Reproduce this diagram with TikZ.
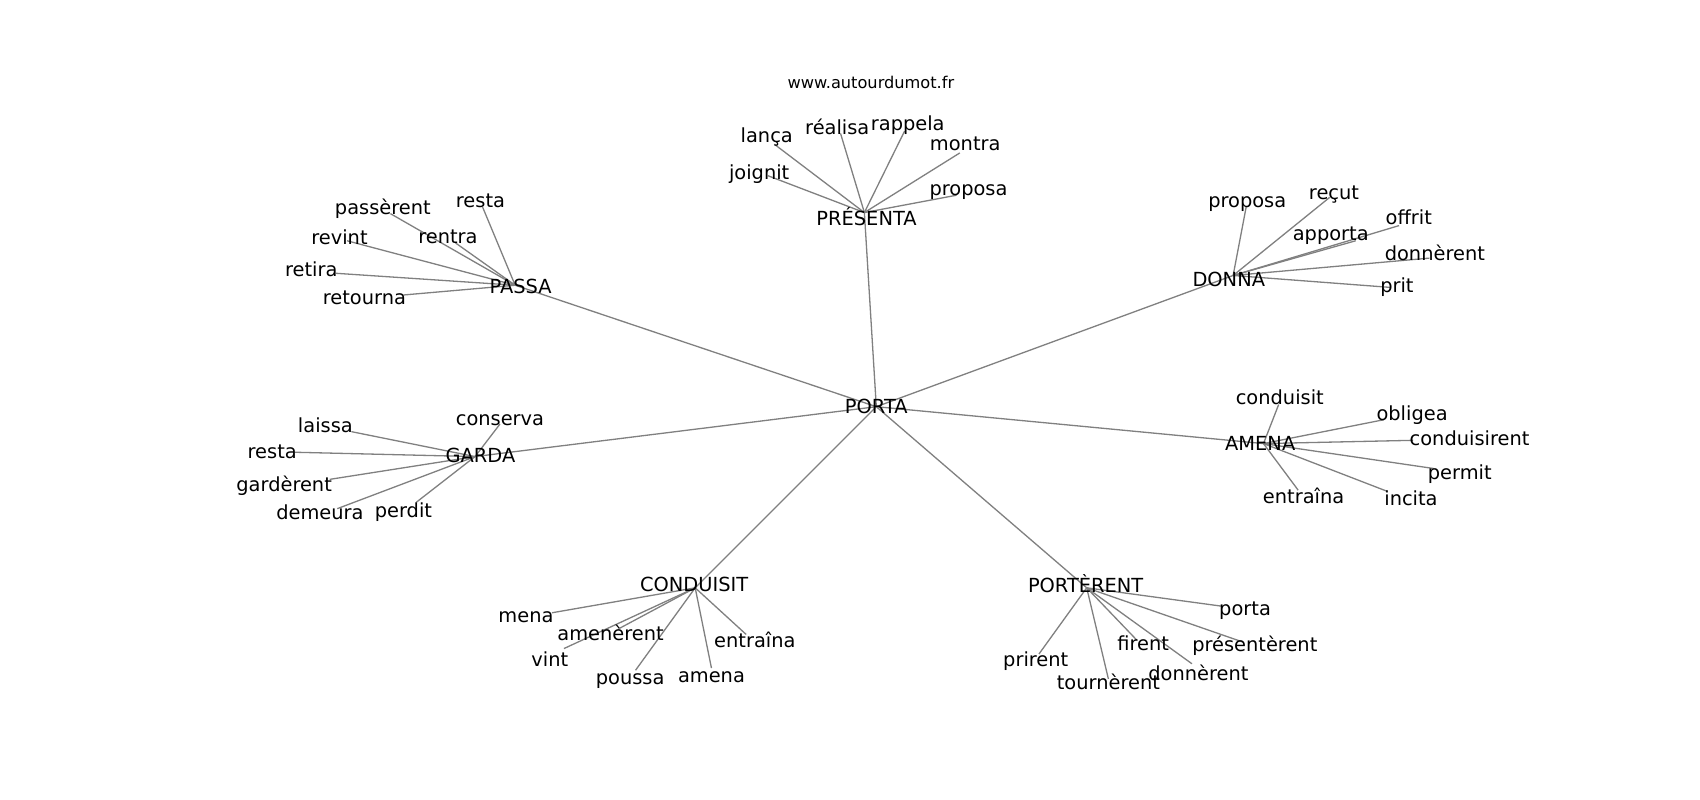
\documentclass[tikz,border=0pt]{standalone}
\usepackage{fontspec}
\setmainfont{DejaVu Sans}
\begin{document}
\begin{tikzpicture}[x=0.54225pt,y=-0.54225pt,
  edge/.style={draw=black!50,line width=0.65pt},
  leaf/.style={inner sep=0pt,text height=1ex,text depth=0pt,yshift=-0.6pt,font=\fontsize{9.7}{11}\selectfont},
  hub/.style={inner sep=0pt,text height=0.729em,text depth=0pt,font=\fontsize{9.7}{11}\selectfont},
  ttl/.style={inner sep=0pt,font=\fontsize{8.1}{10}\selectfont}]
\useasboundingbox[fill=white] (0,0) rectangle (1567.5,737.6);
% hub points
\coordinate (hPORTA) at (808,375);
\coordinate (hPRES) at (797,196);
\coordinate (hPASSA) at (475,263);
\coordinate (hDONNA) at (1137,254);
\coordinate (hAMENA) at (1165,409);
\coordinate (hGARDA) at (438,421);
\coordinate (hCOND) at (641,542);
\coordinate (hPORT) at (1002,542);
% leaf end points
\coordinate (e1) at (714,133);
\coordinate (e2) at (775,123);
\coordinate (e3) at (834,121);
\coordinate (e4) at (885,141);
\coordinate (e5) at (708,162);
\coordinate (e6) at (882,180);
\coordinate (f1) at (360,197);
\coordinate (f2) at (445,191);
\coordinate (f3) at (320,222);
\coordinate (f4) at (420,224);
\coordinate (f5) at (310,252);
\coordinate (f6) at (372,272);
\coordinate (g1) at (1149,191);
\coordinate (g2) at (1226,182);
\coordinate (g3) at (1250,222);
\coordinate (g4) at (1290,208);
\coordinate (g5) at (1318,238);
\coordinate (g6) at (1282,265);
\coordinate (a1) at (1179,373);
\coordinate (a2) at (1276,387);
\coordinate (a3) at (1303,406);
\coordinate (a4) at (1322,432);
\coordinate (a5) at (1279,453);
\coordinate (a6) at (1197,452);
\coordinate (d1) at (461,391);
\coordinate (d2) at (324,398);
\coordinate (d3) at (272,417);
\coordinate (d4) at (304,442);
\coordinate (d5) at (311,469);
\coordinate (d6) at (384,463);
\coordinate (c1) at (509,565);
\coordinate (c2) at (570,580);
\coordinate (c3) at (520,598);
\coordinate (c4) at (586,618);
\coordinate (c5) at (656,616);
\coordinate (c6) at (688,585);
\coordinate (p1) at (1127,559);
\coordinate (p2) at (1146,592);
\coordinate (p3) at (1048,590);
\coordinate (p4) at (1099,612);
\coordinate (p5) at (1022,626);
\coordinate (p6) at (958,603);
% edges
\foreach \h in {hPRES,hPASSA,hDONNA,hAMENA,hGARDA,hCOND,hPORT} \draw[edge] (hPORTA) -- (\h);
\foreach \e in {e1,e2,e3,e4,e5,e6} \draw[edge] (hPRES) -- (\e);
\foreach \e in {f1,f2,f3,f4,f5,f6} \draw[edge] (hPASSA) -- (\e);
\foreach \e in {g1,g2,g3,g4,g5,g6} \draw[edge] (hDONNA) -- (\e);
\foreach \e in {a1,a2,a3,a4,a5,a6} \draw[edge] (hAMENA) -- (\e);
\foreach \e in {d1,d2,d3,d4,d5,d6} \draw[edge] (hGARDA) -- (\e);
\foreach \e in {c1,c2,c3,c4,c5,c6} \draw[edge] (hCOND) -- (\e);
\foreach \e in {p1,p2,p3,p4,p5,p6} \draw[edge] (hPORT) -- (\e);
% title
\node[ttl] (title) at (803,76) {www.autourdumot.fr};
% hub labels
\node[hub] (PORTA) at (808,375) {PORTA};
\node[hub] (PRES) at (799,201) {PRÉSENTA};
\node[hub] (PASSA) at (480,264) {PASSA};
\node[hub] (DONNA) at (1133,257) {DONNA};
\node[hub] (AMENA) at (1162,409) {AMENA};
\node[hub] (GARDA) at (443,420) {GARDA};
\node[hub] (COND) at (640,539) {CONDUISIT};
\node[hub] (PORT) at (1001,540) {PORTÈRENT};
% leaves
\node[leaf] (le1) at (707,125) {lança};
\node[leaf] (le2) at (772,118) {réalisa};
\node[leaf] (le3) at (837,114) {rappela};
\node[leaf] (le4) at (890,133) {montra};
\node[leaf] (le5) at (700,159) {joignit};
\node[leaf] (le6) at (893,174) {proposa};
\node[leaf] (lf1) at (353,192) {passèrent};
\node[leaf] (lf2) at (443,185) {resta};
\node[leaf] (lf3) at (313,219) {revint};
\node[leaf] (lf4) at (413,218) {rentra};
\node[leaf] (lf5) at (287,249) {retira};
\node[leaf] (lf6) at (336,275) {retourna};
\node[leaf] (lg1) at (1150,185) {proposa};
\node[leaf] (lg2) at (1230,178) {reçut};
\node[leaf] (lg3) at (1227,216) {apporta};
\node[leaf] (lg4) at (1299,201) {offrit};
\node[leaf] (lg5) at (1323,234) {donnèrent};
\node[leaf] (lg6) at (1288,264) {prit};
\node[leaf] (la1) at (1180,367) {conduisit};
\node[leaf] (la2) at (1302,382) {obligea};
\node[leaf] (la3) at (1355,405) {conduisirent};
\node[leaf] (la4) at (1346,436) {permit};
\node[leaf] (la5) at (1301,460) {incita};
\node[leaf] (la6) at (1202,458) {entraîna};
\node[leaf] (ld1) at (461,386) {conserva};
\node[leaf] (ld2) at (300,393) {laissa};
\node[leaf] (ld3) at (251,417) {resta};
\node[leaf] (ld4) at (262,447) {gardèrent};
\node[leaf] (ld5) at (295,473) {demeura};
\node[leaf] (ld6) at (372,471) {perdit};
\node[leaf] (lc1) at (485,568) {mena};
\node[leaf] (lc2) at (563,584) {amenèrent};
\node[leaf] (lc3) at (507,608) {vint};
\node[leaf] (lc4) at (581,625) {poussa};
\node[leaf] (lc5) at (656,623) {amena};
\node[leaf] (lc6) at (696,591) {entraîna};
\node[leaf] (lp1) at (1148,561) {porta};
\node[leaf] (lp2) at (1157,595) {présentèrent};
\node[leaf] (lp3) at (1054,594) {firent};
\node[leaf] (lp4) at (1105,621) {donnèrent};
\node[leaf] (lp5) at (1022,630) {tournèrent};
\node[leaf] (lp6) at (955,608) {prirent};
\end{tikzpicture}
\end{document}
